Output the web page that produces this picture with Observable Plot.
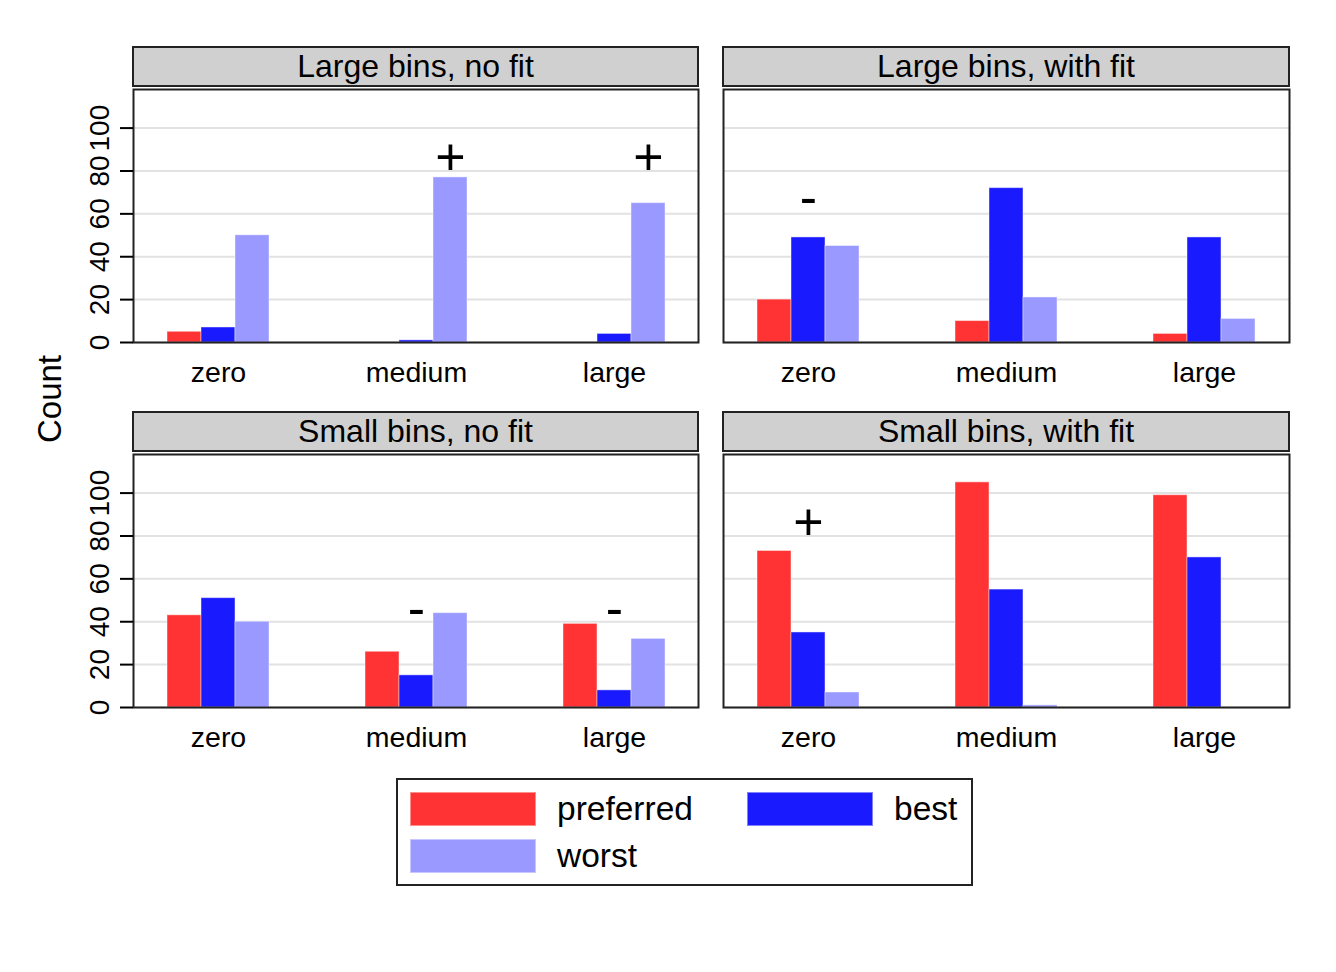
<!DOCTYPE html>
<html>
<head>
<meta charset="utf-8">
<script src="https://cdn.jsdelivr.net/npm/d3@7"></script>
<script src="https://cdn.jsdelivr.net/npm/@observablehq/plot@0.6"></script>
<style>
  html, body { margin: 0; padding: 0; background: #fff; }
  #chart { position: relative; width: 1336px; height: 972px; font-family: "Liberation Sans", Arial, sans-serif; color: #000; overflow: hidden; background: #fff; }
  .panel { position: absolute; z-index: 1; }
  .panel svg { position: absolute; left: 0; top: 0; }
  .strip { position: absolute; box-sizing: border-box; height: 41px; background: #d0d0d0; border: 2px solid #222; font-size: 32px; line-height: 36px; text-align: center; white-space: nowrap; z-index: 2; }
  .ylab { position: absolute; left: 50px; top: 399px; transform: translate(-50%, -50%) rotate(-90deg); font-size: 33px; white-space: nowrap; }
  .legend { position: absolute; left: 396px; top: 778px; width: 577px; height: 108px; box-sizing: border-box; border: 2px solid #222; background: #fff; }
  .swatch { position: absolute; width: 126px; height: 34px; box-sizing: border-box; border: 1px solid rgba(255,255,255,0.45); }
  .ltext { position: absolute; height: 34px; line-height: 34px; font-size: 33.5px; white-space: nowrap; }
</style>
</head>
<body>
<div id="chart"></div>
<script>
// ---- data ----
const categories = ["zero", "medium", "large"];
const seriesNames = ["preferred", "best", "worst"];
const seriesColors = ["#FF3333", "#1A1AFF", "#9999FF"];
const panelTitles = ["Large bins, no fit", "Large bins, with fit", "Small bins, no fit", "Small bins, with fit"];
// counts per panel, listed in category order zero / medium / large
const preferredCounts = [[5, 0, 0], [20, 10, 4], [43, 26, 39], [73, 105, 99]];
const bestCounts = [[7, 1, 4], [49, 72, 49], [51, 15, 8], [35, 55, 70]];
const worstCounts = [[50, 77, 65], [45, 21, 11], [40, 44, 32], [7, 1, 0]];
const yTicks = [0, 20, 40, 60, 80, 100];
const yLabel = "Count";
// significance markers
const markerPanel = [0, 0, 1, 2, 2, 3];
const markerCategory = ["medium", "large", "zero", "medium", "large", "zero"];
const markerSeries = ["worst", "worst", "best", "best", "best", "best"];
const markerSymbol = ["+", "+", "-", "-", "-", "+"];
const markerHeight = [86, 86, 67, 46, 46, 86];

// ---- layout ----
const FONT = '"Liberation Sans", Arial, sans-serif';
const MT = 9, MB = 60, PH = 253;
const PAD_IN = 0.485, PAD_OUT = 0.167;
const layout = [
  {left: 0, top: 80, width: 710, ml: 133, mr: 12, yAxis: true},
  {left: 710, top: 80, width: 626, ml: 13, mr: 47, yAxis: false},
  {left: 0, top: 445, width: 710, ml: 133, mr: 12, yAxis: true},
  {left: 710, top: 445, width: 626, ml: 13, mr: 47, yAxis: false}
];
const countsBySeries = [preferredCounts, bestCounts, worstCounts];
const chart = document.getElementById("chart");

function base(L) {
  return {
    width: L.width,
    height: MT + PH + MB,
    marginLeft: L.ml, marginRight: L.mr, marginTop: MT, marginBottom: MB,
    style: {background: "transparent", fontFamily: FONT, color: "#000", overflow: "visible"}
  };
}

layout.forEach((L, p) => {
  const rows = categories.flatMap((c, ci) =>
    seriesNames.map((s, si) => ({category: c, series: s, count: countsBySeries[si][p][ci]})));
  const markers = markerPanel
    .map((mp, i) => ({panel: mp, category: markerCategory[i], series: markerSeries[i], symbol: markerSymbol[i], height: markerHeight[i]}))
    .filter(d => d.panel === p);

  // layer 1: grid
  const gridLayer = Plot.plot({
    ...base(L),
    x: {type: "band", domain: categories, paddingInner: PAD_IN, paddingOuter: PAD_OUT, axis: null},
    y: {domain: [0, 118], axis: null},
    marks: [
      Plot.gridY(yTicks, {stroke: "#e2e2e2", strokeOpacity: 1, strokeWidth: 2})
    ]
  });

  // layer 2: grouped bars and markers
  const barLayer = Plot.plot({
    ...base(L),
    fx: {domain: categories, paddingInner: PAD_IN, paddingOuter: PAD_OUT, axis: null, label: null},
    x: {domain: seriesNames, padding: 0, axis: null},
    y: {domain: [0, 118], axis: null},
    color: {domain: seriesNames, range: seriesColors},
    marks: [
      Plot.barY(rows, {fx: "category", x: "series", y: "count", fill: "series", stroke: "#fff", strokeOpacity: 0.45, strokeWidth: 1}),
      Plot.text(markers, {fx: "category", x: "series", y: "height", text: "symbol", fontSize: 52, fill: "#000"})
    ]
  });

  // layer 3: frame and axes
  const axisMarks = [
    Plot.frame({stroke: "#222", strokeWidth: 2}),
    Plot.axisX({anchor: "bottom", tickSize: 0, tickPadding: 19, fontSize: 28.5, label: null})
  ];
  if (L.yAxis) {
    axisMarks.push(Plot.axisY(yTicks, {tickSize: 13, tickPadding: 12, tickRotate: -90, fontSize: 28, strokeWidth: 2, label: null}));
  }
  const axisLayer = Plot.plot({
    ...base(L),
    x: {type: "band", domain: categories, paddingInner: PAD_IN, paddingOuter: PAD_OUT, label: null},
    y: Object.assign({domain: [0, 118], label: null}, L.yAxis ? {} : {axis: null}),
    marks: axisMarks
  });

  const wrap = document.createElement("div");
  wrap.className = "panel";
  wrap.style.left = L.left + "px";
  wrap.style.top = L.top + "px";
  wrap.style.width = L.width + "px";
  wrap.style.height = (MT + PH + MB) + "px";
  wrap.appendChild(gridLayer);
  wrap.appendChild(barLayer);
  wrap.appendChild(axisLayer);
  chart.appendChild(wrap);

  const strip = document.createElement("div");
  strip.className = "strip";
  strip.style.left = (L.left + L.ml - 1) + "px";
  strip.style.top = (L.top + MT - 43) + "px";
  strip.style.width = (L.width - L.ml - L.mr + 2) + "px";
  strip.textContent = panelTitles[p];
  chart.appendChild(strip);
});

const ylab = document.createElement("div");
ylab.className = "ylab";
ylab.textContent = yLabel;
chart.appendChild(ylab);

// legend
const legendPos = [{sx: 12, sy: 12, tx: 159}, {sx: 349, sy: 12, tx: 496}, {sx: 12, sy: 59, tx: 159}];
const legend = document.createElement("div");
legend.className = "legend";
seriesNames.forEach((s, i) => {
  const sw = document.createElement("div");
  sw.className = "swatch";
  sw.style.left = legendPos[i].sx + "px";
  sw.style.top = legendPos[i].sy + "px";
  sw.style.background = seriesColors[i];
  legend.appendChild(sw);
  const t = document.createElement("div");
  t.className = "ltext";
  t.style.left = legendPos[i].tx + "px";
  t.style.top = legendPos[i].sy + "px";
  t.textContent = s;
  legend.appendChild(t);
});
chart.appendChild(legend);
</script>
</body>
</html>
